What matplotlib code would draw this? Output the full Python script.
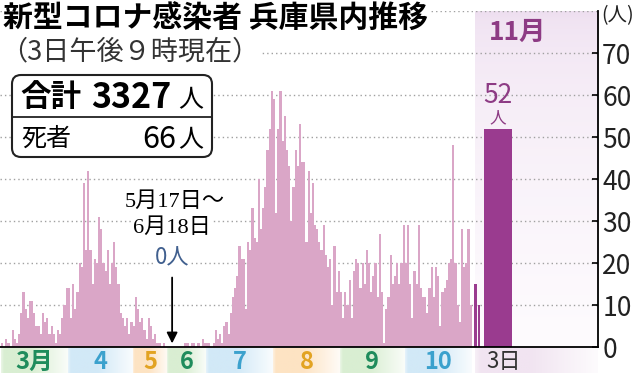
import numpy as np
import matplotlib
matplotlib.use('Agg')
import matplotlib.pyplot as plt
from matplotlib.patches import FancyBboxPatch
from matplotlib.lines import Line2D
from matplotlib.colors import to_rgb
from matplotlib.transforms import IdentityTransform

plt.rcParams['font.family'] = ['Noto Sans CJK JP', 'DejaVu Sans']

# 日別の新規感染者数（図から読み取った概算値）
mar = [1, 0, 2, 1, 0, 4, 2, 1, 3, 8, 13, 9, 7, 11, 11, 8, 5, 5, 3, 8,
       6, 7, 3, 5, 3, 1, 4, 3, 7, 10, 14]
apr = [14, 7, 15, 9, 13, 20, 19, 39, 23, 42, 23, 15, 21, 20, 31, 28, 20, 18,
       23, 15, 20, 25, 19, 15, 8, 7, 5, 7, 3, 6]
may_early = [5, 12, 9, 6, 7, 4, 2, 7, 5, 2, 3, 1, 1, 0, 1, 0]      # 5/1-5/16
jun_late = [0, 0, 1, 1, 0, 1, 1, 0, 1, 0, 2, 1]                      # 6/19-6/30
jul = [1, 1, 0, 1, 4, 2, 3, 1, 5, 6, 3, 8, 12, 14, 17, 24, 21, 21, 9, 25,
       23, 33, 26, 25, 40, 28, 33, 38, 47, 52, 61]
aug = [59, 32, 52, 61, 49, 55, 47, 43, 30, 38, 47, 43, 53, 44, 44, 25, 42,
       32, 39, 29, 28, 25, 23, 29, 22, 19, 21, 10, 24, 13, 18]
sep = [13, 7, 13, 10, 16, 7, 18, 21, 20, 14, 20, 15, 23, 20, 13, 17, 20, 12,
       27, 13, 1, 9, 12, 22, 15, 17, 20, 15, 20, 29]
oct_ = [20, 29, 15, 7, 18, 15, 29, 14, 12, 12, 8, 14, 19, 12, 19, 17, 5, 13,
        14, 16, 20, 21, 48, 20, 10, 6, 28, 19, 20, 28, 10]
nov = [15, 10, 52]   # 11/1, 11/2, 11/3

month_labels = ['3月', '4', '5', '6', '7', '8', '9', '10']
total = 3327
deaths = 66

PINK = '#daa6c7'
PURPLE = '#9a3b8f'
GREEN, BLUE, ORANGE = '#1f8c5c', '#3ba1cd', '#e2a322'
BAND_GREEN, BAND_BLUE, BAND_ORANGE = '#d9eed2', '#d2e9f7', '#fde3c3'

GAP = 6  # 5/17-6/18（0人）の期間は縮めて表示

vals = np.array(mar + apr + may_early + [0] * GAP + jun_late + jul + aug + sep + oct_)
xs = np.arange(len(vals)) + 0.5
edges = np.cumsum([0, len(mar), len(apr), len(may_early), GAP + len(jun_late),
                   len(jul), len(aug), len(sep), len(oct_)])

XMIN, XMAX = -0.4, 276.5
nov_x0 = len(vals) + 1.6

fig = plt.figure(figsize=(6.39, 3.81), dpi=100)
ax = fig.add_axes([0, 34 / 381, 598 / 639, 336 / 381])

# 11月の背景
top = np.array(to_rgb('#eedff0'))
t = np.linspace(0, 1, 64)[:, None]
t = np.sqrt(t)
grad = (1 - t) * top + t * np.array([0.995, 0.985, 0.995])
ax.imshow(grad[:, None, :], extent=[nov_x0, XMAX, 0, 80], aspect='auto',
          zorder=0, interpolation='bilinear')

for yv in range(10, 90, 10):
    ax.axhline(yv, color='#a0a0a0', lw=1.0, ls=(0, (1, 2.2)), zorder=1)

ax.bar(xs, vals, width=1.0, color=PINK, linewidth=0, zorder=2)
ax.bar([nov_x0 + 0.3, nov_x0 + 1.8], nov[:2], width=1.3, color=PURPLE, linewidth=0, zorder=2)
big_x = nov_x0 + 10.6
ax.bar([big_x], nov[2:], width=13, color=PURPLE, linewidth=0, zorder=2)

ax.set_xlim(XMIN, XMAX)
ax.set_ylim(0, 80)
for s in ['left', 'top']:
    ax.spines[s].set_visible(False)
ax.spines['right'].set_linewidth(1.3)
ax.spines['bottom'].set_linewidth(1.3)
ax.set_xticks([])
ax.yaxis.tick_right()
ax.set_yticks(range(0, 80, 10))
ax.tick_params(axis='y', direction='in', length=4, width=1.2, pad=3,
               labelsize=19, labelcolor='#222222')
ax.text(1.005, 0.985, '(人)', transform=ax.transAxes, fontsize=14,
        ha='left', va='center', color='#222222')

ax.text(nov_x0 + 19.5, 75, '11月', color='#8d3b84', fontsize=19,
        fontweight='bold', ha='center', va='center')
ax.text(big_x, 59.8, str(nov[2]), color='#8d3b84', fontsize=19,
        ha='center', va='center')
ax.text(big_x, 54.6, '人', color='#8d3b84', fontsize=12,
        ha='center', va='center')

# 0人の期間
zx = edges[3] + 2.3
wb = dict(facecolor='white', edgecolor='none', pad=1)
serif = ['Liberation Serif', 'Noto Sans CJK JP']
ax.text(zx + 1.3, 34.5, '5月17日～', family=serif, fontsize=16,
        ha='center', va='center', bbox=wb, zorder=3)
ax.text(zx, 28.3, '6月18日', family=serif, fontsize=16,
        ha='center', va='center', bbox=wb, zorder=3)
ax.text(zx, 21.2, '0人', color='#41608f', fontsize=16,
        ha='center', va='center', bbox=wb, zorder=3)
ax.annotate('', xy=(zx, 0.2), xytext=(zx, 17.2),
            arrowprops=dict(arrowstyle='-|>', color='black', lw=1.3,
                            mutation_scale=16), zorder=4)

# 月の帯
band = fig.add_axes([0, 8 / 381, 598 / 639, 25 / 381])
band.set_xlim(XMIN, XMAX)
band.set_ylim(0, 1)
band.axis('off')
band_cols = [BAND_GREEN, BAND_BLUE, BAND_ORANGE] * 3
text_cols = [GREEN, BLUE, ORANGE] * 3
tt = np.linspace(0, 1, 64)
w = 1 - 0.85 * np.clip((tt - 0.45) / 0.55, 0, 1)
w = w * np.clip(0.6 + tt / 0.1, 0, 1)
for i, lab in enumerate(month_labels):
    c = np.array(to_rgb(band_cols[i]))
    img = (1 - w[:, None]) + w[:, None] * c
    band.imshow(img[None, :, :], extent=[edges[i], edges[i + 1], 0, 1],
                aspect='auto', interpolation='bilinear')
    band.text((edges[i] + edges[i + 1]) / 2, 0.45, lab, color=text_cols[i],
              fontsize=17, fontweight='bold', ha='center', va='center')
c = np.array(to_rgb('#f1e4f1'))
img = (1 - w[:, None]) + w[:, None] * c
band.imshow(img[None, :, :], extent=[nov_x0, XMAX, 0, 1], aspect='auto',
            interpolation='bilinear')
band.text(big_x - 5.5, 0.45, '3日', color='#333333', fontsize=16,
          ha='left', va='center')
band.set_xlim(XMIN, XMAX)
band.set_ylim(0, 1)

# タイトル
fig.text(3 / 639, 1 - 19 / 381, '新型コロナ感染者 兵庫県内推移', fontsize=21.5,
         fontweight='bold', ha='left', va='center',
         bbox=dict(facecolor='white', edgecolor='none', pad=1))
fig.text(0, 1 - 52 / 381, '（3日午後９時現在）', fontsize=19.5, color='#333333',
         ha='left', va='center',
         bbox=dict(facecolor='white', edgecolor='none', pad=1))

# 合計ボックス
H = 381
box = FancyBboxPatch((12, H - 157), 200, 82, boxstyle='round,pad=0,rounding_size=9',
                     transform=IdentityTransform(), facecolor='white',
                     edgecolor='#222222', lw=1.5, zorder=5)
fig.add_artist(box)
fig.add_artist(Line2D([12, 212], [H - 117, H - 117], transform=IdentityTransform(),
                      color='#222222', lw=1.3, zorder=6))
fy = lambda py: 1 - py / H
fx = lambda px: px / 639
fig.text(fx(20), fy(97), '合計', fontsize=22, fontweight='bold', ha='left',
         va='center', zorder=7)
fig.text(fx(171), fy(97), str(total), fontsize=24.5, fontweight='bold',
         ha='right', va='center', zorder=7)
fig.text(fx(203), fy(100), '人', fontsize=18, ha='right', va='center', zorder=7)
fig.text(fx(21), fy(139), '死者', fontsize=18, ha='left', va='center', zorder=7)
fig.text(fx(176), fy(139), str(deaths), fontsize=22, ha='right', va='center', zorder=7)
fig.text(fx(203), fy(140), '人', fontsize=18, ha='right', va='center', zorder=7)

fig.savefig('out.png', dpi=100)
